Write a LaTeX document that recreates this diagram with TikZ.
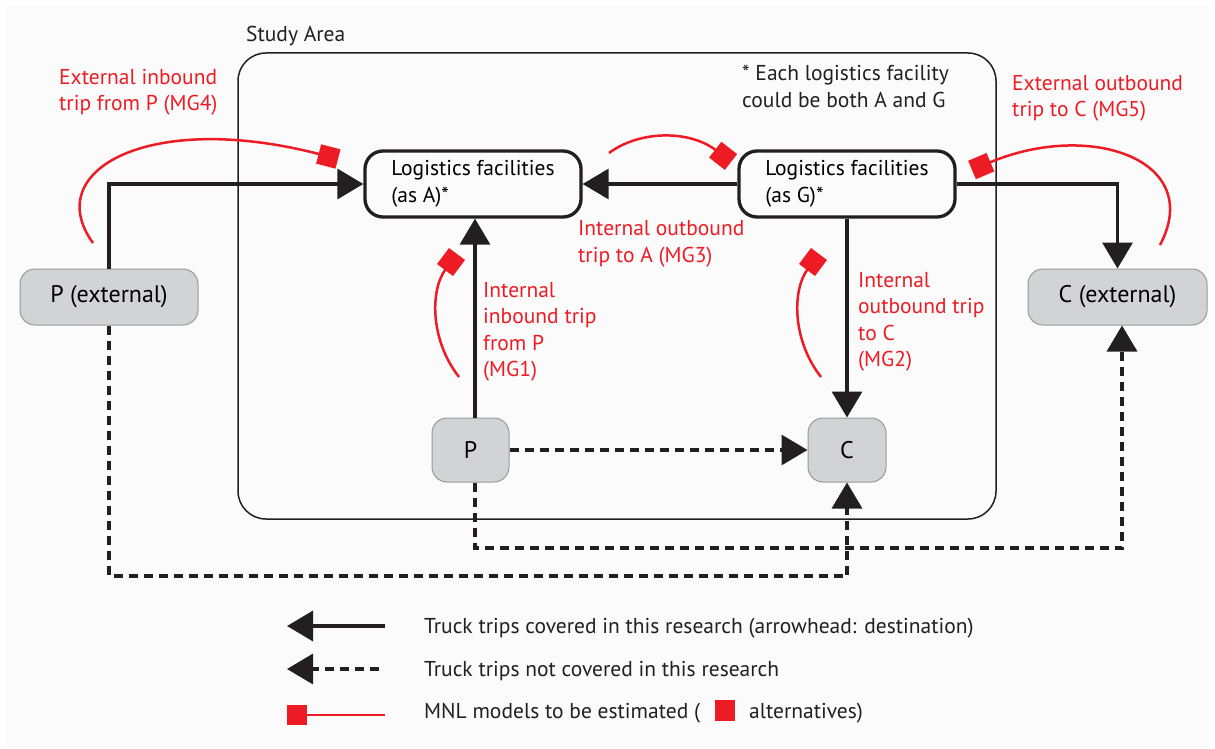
\documentclass[tikz,border=0pt]{standalone}
\usepackage{fontspec}
\setmainfont{PT Sans}
\usetikzlibrary{arrows.meta}
\definecolor{mnlred}{HTML}{ED1C24}
\definecolor{zonegray}{HTML}{D1D3D4}
\definecolor{ink}{HTML}{231F20}
\tikzset{
  trip/.style={line width=3.3pt,draw=ink,-{Triangle[length=26pt,width=30pt]}},
  nottrip/.style={trip,dash pattern=on 9pt off 6pt},
  mnl/.style={line width=2.5pt,draw=mnlred,-{Square[length=20pt,width=20pt]}},
  facility/.style={draw=ink,line width=3.3pt,rounded corners=18pt,minimum height=66pt,
    minimum width=216pt,align=left},
  zone/.style={draw=black!40,fill=zonegray,line width=1pt,rounded corners=15pt,
    font=\fontsize{24}{28}\selectfont},
  lbl/.style={anchor=base west,align=left,inner sep=0pt,text=ink},
  redlbl/.style={lbl,text=mnlred},
}
\begin{document}
\begin{tikzpicture}[x=1pt,y=-1pt,font=\fontsize{21.5}{26.5}\selectfont]
  \useasboundingbox (0,0) rectangle (1215,749);
  \fill[black!1.5] (6,6) rectangle (1209,748);
  \node[draw=ink,line width=1.5pt,rounded corners=28pt,minimum width=758pt,minimum height=466pt,inner sep=0pt] (area) at (617,286) {};
  \node[lbl] (areaname) at (246,42) {Study Area};
  \node[lbl] (note) at (742,107.5) {* Each logistics facility\\could be both A and G};
  \node[facility] (A) at (473,184) {Logistics facilities\\(as A)*};
  \node[facility] (G) at (847,184) {Logistics facilities\\(as G)*};
  \node[zone,minimum width=178pt,minimum height=56pt] (Pe) at (109,297) {P (external)};
  \node[zone,minimum width=179pt,minimum height=56pt] (Ce) at (1117.5,297) {C (external)};
  \node[zone,minimum width=77pt,minimum height=64pt] (P) at (470.5,450) {P};
  \node[zone,minimum width=78pt,minimum height=64pt] (C) at (847,450) {C};
  \coordinate (low1) at (0,576);\coordinate (low2) at (0,548);
  \draw[trip] (Pe.north) |- (A.west);
  \draw[trip] (G.west) -- (A.east);
  \draw[trip] ([xshift=4.5pt]P.north) -- ([xshift=4.5pt]P.north |- A.south);
  \draw[trip] (G.south) -- (C.north);
  \draw[trip] (G.east) -| (Ce.north);
  \draw[nottrip] (P.east) -- (C.west);
  \draw[nottrip] (Pe.south) -- (Pe.south |- low1) -| (C.south);
  \draw[nottrip] ([xshift=4.5pt]P.south) -- ([xshift=4.5pt]P.south |- low2) -| ([xshift=4.5pt]Ce.south);
  \draw[mnl] (93,243) .. controls (40,170) and (150,110) .. (338,159);
  \draw[mnl] (609,153) .. controls (640,130) and (690,130) .. (731,162);
  \draw[mnl] (459,377) .. controls (430,340) and (430,290) .. (457,254);
  \draw[mnl] (821,377) .. controls (792,340) and (792,290) .. (819,254);
  \draw[mnl] (1160,245) .. controls (1205,160) and (1090,120) .. (972,170);
  \node[redlbl] (mg4) at (59,111) {External inbound\\trip from P (MG4)};
  \node[redlbl] (mg3) at (578,262) {Internal outbound\\trip to A (MG3)};
  \node[redlbl] (mg1) at (483,376.5) {Internal\\inbound trip\\from P\\(MG1)};
  \node[redlbl] (mg2) at (858,366.5) {Internal\\outbound trip\\to C\\(MG2)};
  \node[redlbl] (mg5) at (1012,117) {External outbound\\trip to C (MG5)};
  \coordinate (k1) at (385,626);\coordinate (k1e) at (287,626);
  \coordinate (k2) at (379,669);\coordinate (k2e) at (287,669);
  \coordinate (k3) at (385,715);\coordinate (k3e) at (287,715);
  \draw[trip] (k1) -- (k1e);
  \draw[nottrip] (k2) -- (k2e);
  \draw[mnl] (k3) -- (k3e);
  \node[lbl] (key1) at (424,633) {Truck trips covered in this research (arrowhead: destination)};
  \node[lbl] (key2) at (424,676) {Truck trips not covered in this research};
  \node[lbl] (key3) at (424,718) {MNL models to be estimated (\hspace{15pt}\textcolor{mnlred}{\rule[-3pt]{20pt}{21pt}}\hspace{14pt}alternatives)};
\end{tikzpicture}
\end{document}
